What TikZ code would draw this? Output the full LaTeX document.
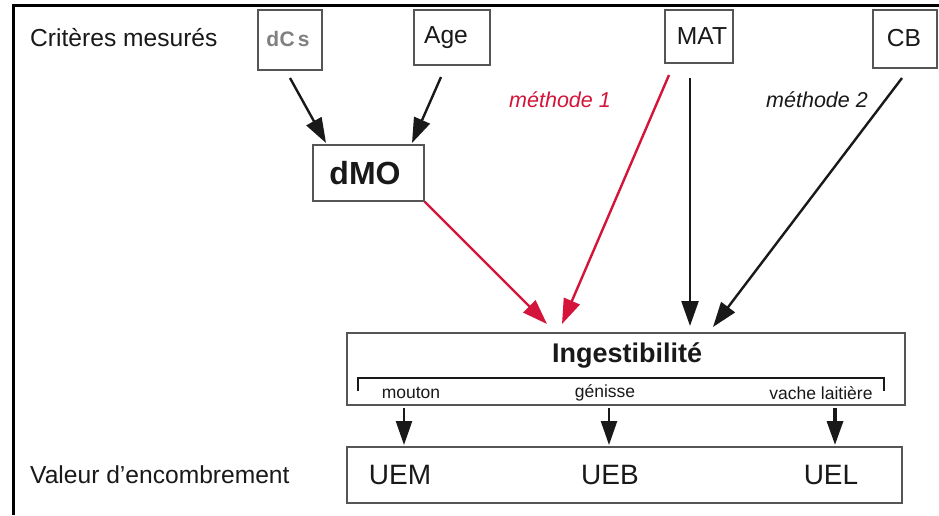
\documentclass[tikz,border=0pt]{standalone}
\usepackage{fontspec}
\setmainfont{Liberation Sans}
\usetikzlibrary{arrows.meta,calc}
\definecolor{crimson}{RGB}{212,20,58}
\definecolor{boxline}{RGB}{85,85,85}
\definecolor{ink}{RGB}{25,25,25}
\begin{document}
\begin{tikzpicture}[x=1pt,y=-1pt,
  box/.style={draw=boxline,line width=1.2pt,inner sep=0pt,align=center,text=ink},
  lab/.style={inner sep=0pt,text=ink,font=\fontsize{24.6}{28}\selectfont},
  link/.style={line width=2.4pt,-{Triangle[length=25pt,width=17pt]}},
  drop/.style={line width=2.4pt,-{Triangle[length=24pt,width=16pt]}},
  small/.style={inner sep=0pt,text=ink,font=\fontsize{17.5}{20}\selectfont}]
\useasboundingbox (0,0) rectangle (939,515);
\fill[white] (0,0) rectangle (939,515);
% partial frame: top and left rules
\draw[line width=3pt,black] (939,5.5) -- (13.5,5.5) -- (13.5,515);

% row of measured criteria
\node[lab,anchor=west] (crit) at (30,38) {Critères mesurés};
\node[box,minimum width=64pt,minimum height=60pt] (dcs) at (290,40) {};
\node[inner sep=0pt,text=gray,font=\fontsize{21}{24}\selectfont\bfseries] (dcst) at (288,39) {d\kern0.5pt C\kern3pt s};
\node[box,minimum width=76pt,minimum height=55pt] (age) at (452,37.5) {};
\node[lab] (aget) at (446,38) {Age};
\node[box,minimum width=68pt,minimum height=53pt] (mat) at (699,36.5) {};
\node[lab] (matt) at (702,36) {MAT};
\node[box,minimum width=64pt,minimum height=58pt] (cb) at (905,39) {};
\node[lab] (cbt) at (904,38) {CB};

% digestibility node
\node[box,minimum width=111pt,minimum height=56pt] (dmo) at (368.5,173) {};
\node[inner sep=0pt,text=ink,font=\fontsize{32}{36}\selectfont\bfseries] (dmot) at (365,173) {dMO};

% method labels
\node[inner sep=0pt,text=crimson,font=\fontsize{21.5}{24}\selectfont\itshape] (m1) at (560,100) {méthode 1};
\node[inner sep=0pt,text=ink,font=\fontsize{21.5}{24}\selectfont\itshape] (m2) at (817,100) {méthode 2};

% ingestibility block
\node[box,minimum width=558pt,minimum height=72pt] (ing) at (626,369) {};
\node[inner sep=0pt,text=ink,font=\fontsize{27}{30}\selectfont\bfseries] (ingt) at (627,355) {Ingestibilité};
\draw[line width=1.4pt,ink] (358,391) -- (358,378) -- (884,378) -- (884,391);
\node[small] (mou) at (411,393) {mouton};
\node[small] (gen) at (605,393) {génisse};
\node[small] (vac) at (821,393) {vache laitière};

% fill values block
\node[box,minimum width=555pt,minimum height=56pt] (ue) at (624.5,475) {};
\node[lab,anchor=west] (val) at (30,475) {Valeur d’encombrement};
\node[lab,font=\fontsize{28}{32}\selectfont] (uem) at (400,475) {UEM};
\node[lab,font=\fontsize{28}{32}\selectfont] (ueb) at (610,475) {UEB};
\node[lab,font=\fontsize{28}{32}\selectfont] (uel) at (831,475) {UEL};

% connector end points
\coordinate (dcsS) at (290,78);
\coordinate (dmoA) at (326,143);
\coordinate (ageS) at (441,77);
\coordinate (dmoB) at (412,143);
\coordinate (matA) at (669,75);
\coordinate (matB) at (690,78);
\coordinate (cbS)  at (902,78);
\coordinate (ingA) at (547,324);
\coordinate (ingB) at (562,324);
\coordinate (ingC) at (690,326);
\coordinate (ingD) at (713,327);
\coordinate (ueA) at (404,445);
\coordinate (ueB) at (609,445);
\coordinate (ueC) at (835,445);
\coordinate (ingE) at (404,408);
\coordinate (ingF) at (609,408);
\coordinate (ingG) at (835,408);

% connectors
\draw[link,ink] (dcsS) -- (dmoA);
\draw[link,ink] (ageS) -- (dmoB);
\draw[link,crimson] (dmo.south east) -- (ingA);
\draw[link,crimson] (matA) -- (ingB);
\draw[link,ink] (matB) -- (ingC);
\draw[link,ink] (cbS) -- (ingD);
\draw[drop,ink] (ingE) -- (ueA);
\draw[drop,ink] (ingF) -- (ueB);
\draw[drop,ink,line width=3.4pt] (ingG) -- (ueC);
\end{tikzpicture}
\end{document}
